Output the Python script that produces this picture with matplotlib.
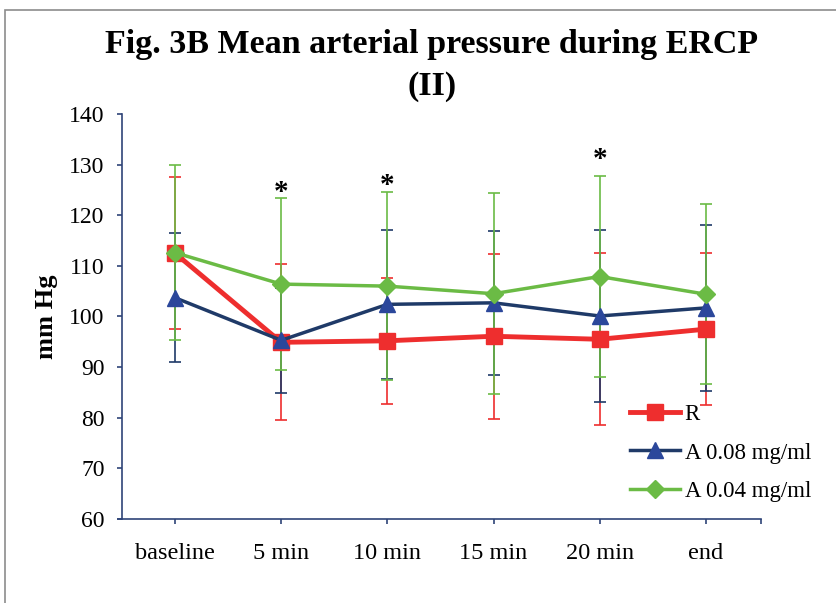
import matplotlib.pyplot as plt
from matplotlib.patches import Rectangle

# data
times = ["baseline", "5 min", "10 min", "15 min", "20 min", "end"]

r_mean = [112.5, 94.9, 95.2, 96.1, 95.5, 97.5]
r_sd = [15.0, 15.4, 12.5, 16.3, 17.0, 15.0]

a08_mean = [103.7, 95.3, 102.4, 102.7, 100.1, 101.7]
a08_sd = [12.7, 10.4, 14.7, 14.2, 17.0, 16.4]

a04_mean = [112.6, 106.4, 106.0, 104.5, 107.9, 104.4]
a04_sd = [17.3, 17.0, 18.6, 19.8, 19.9, 17.8]

star_times = ["5 min", "10 min", "20 min"]
star_y = [124.4, 125.8, 131.1]

red = "#EE2E2E"
navy = "#1F3A68"
blue_mk = "#2B479B"
green = "#6BBB45"
axis_col = "#2F4478"

plt.rcParams["font.family"] = ["Liberation Serif", "DejaVu Serif"]

fig = plt.figure(figsize=(8.36, 6.03), dpi=100)
ax = fig.add_axes([122 / 836, 1 - 519 / 603, (761 - 122) / 836, (519 - 114) / 603])

x = list(range(len(times)))

# error bars first (drawn behind the lines)
ax.errorbar(x, r_mean, yerr=r_sd, fmt="none", ecolor=red, elinewidth=1.2,
            capsize=4, capthick=1.2, zorder=2)
ax.errorbar(x, a08_mean, yerr=a08_sd, fmt="none", ecolor=navy, elinewidth=1.2,
            capsize=4, capthick=1.2, zorder=2)
ax.errorbar(x, a04_mean, yerr=a04_sd, fmt="none", ecolor=green, elinewidth=1.2,
            capsize=4, capthick=1.2, zorder=2)

ax.plot(x, r_mean, color=red, lw=3.5, marker="s", ms=11, mfc=red, mec=red,
        label="R", zorder=3)
ax.plot(x, a08_mean, color=navy, lw=2.5, marker="^", ms=11, mfc=blue_mk, mec=blue_mk,
        label="A 0.08 mg/ml", zorder=4)
ax.plot(x, a04_mean, color=green, lw=2.5, marker="D", ms=9, mfc=green, mec=green,
        label="A 0.04 mg/ml", zorder=5)

for t, sy in zip(star_times, star_y):
    ax.text(times.index(t), sy, "*", ha="center", va="center", fontsize=21,
            fontweight="bold")

ax.set_xlim(-0.5, 5.52)
ax.set_ylim(60, 140)
ax.set_yticks(range(60, 141, 10))
ax.set_xticks(x + [5.52])
ax.set_xticklabels(times + [""], fontsize=17.5)
ax.tick_params(axis="y", labelsize=17, length=3.5, width=1.2, color=axis_col, pad=9)
ax.tick_params(axis="x", length=3.5, width=1.2, color=axis_col, pad=14)

for side in ["top", "right"]:
    ax.spines[side].set_visible(False)
for side in ["left", "bottom"]:
    ax.spines[side].set_color(axis_col)
    ax.spines[side].set_linewidth(1.2)
ax.spines["bottom"].set_bounds(-0.54, 5.52)

ax.set_ylabel("mm Hg", fontsize=19, fontweight="bold", labelpad=8)

fig.text(432 / 836, 1 - 45 / 603, "Fig. 3B Mean arterial pressure during ERCP",
         ha="center", va="center", fontsize=24.5, fontweight="bold")
fig.text(432 / 836, 1 - 87 / 603, "(II)", ha="center", va="center",
         fontsize=24.5, fontweight="bold")

leg = ax.legend(loc="lower left", bbox_to_anchor=(0.78, 0.02), frameon=False,
                fontsize=16.5, handlelength=2.2, labelspacing=0.75,
                handletextpad=0.2, borderaxespad=0)

# outer frame of the chart area
fig.patches.append(Rectangle((5 / 836, -0.1), 1.2, 1 - 10 / 603 + 0.1,
                             transform=fig.transFigure, fill=False,
                             edgecolor="#8C8C8C", lw=1.2))

fig.savefig("out.png", dpi=100)
